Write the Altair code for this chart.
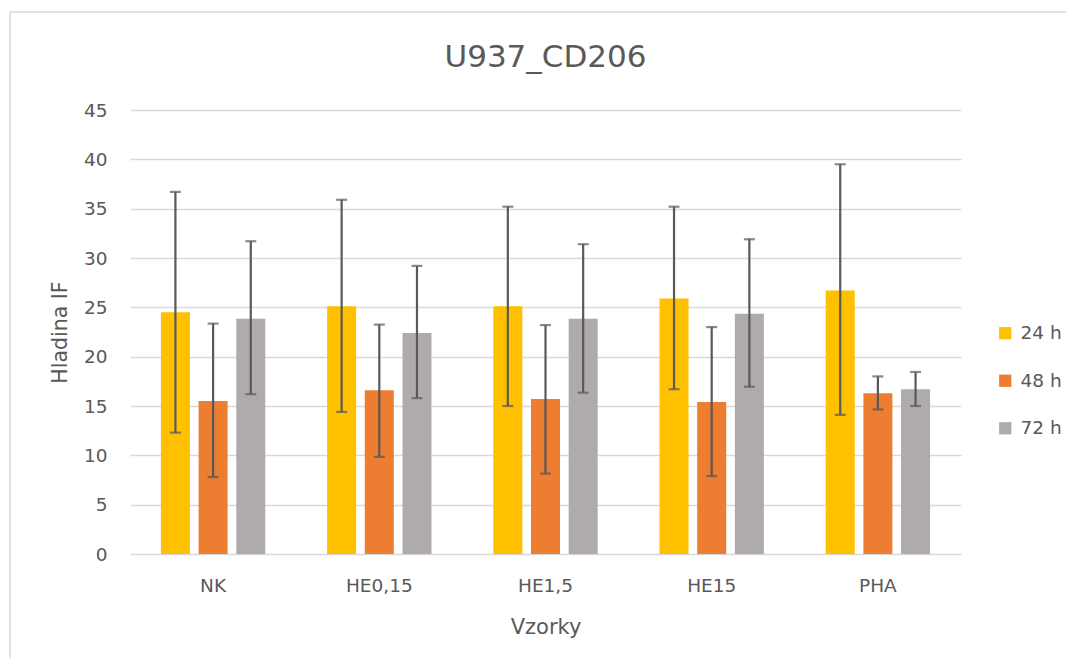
import altair as alt
import pandas as pd

samples = ["NK", "HE0,15", "HE1,5", "HE15", "PHA"]
series = ["24 h", "48 h", "72 h"]
colors = ["#FFC000", "#ED7D31", "#AFABAB"]
title_text = "U937_CD206"

mean_24 = [24.5, 25.1, 25.1, 25.9, 26.7]
mean_48 = [15.5, 16.6, 15.7, 15.4, 16.3]
mean_72 = [23.85, 22.4, 23.85, 24.35, 16.7]

hi_24 = [36.7, 35.9, 35.2, 35.2, 39.5]
lo_24 = [12.3, 14.4, 15.0, 16.7, 14.1]
hi_48 = [23.35, 23.25, 23.2, 23.0, 18.0]
lo_48 = [7.8, 9.85, 8.15, 7.9, 14.65]
hi_72 = [31.7, 29.2, 31.4, 31.9, 18.45]
lo_72 = [16.2, 15.8, 16.35, 16.95, 15.0]

rows = []
for s, means, his, los in [("24 h", mean_24, hi_24, lo_24),
                           ("48 h", mean_48, hi_48, lo_48),
                           ("72 h", mean_72, hi_72, lo_72)]:
    for i, cat in enumerate(samples):
        rows.append({"Vzorky": cat, "cas": s, "val": means[i], "hi": his[i], "lo": los[i]})
df = pd.DataFrame(rows)

FONT = "DejaVu Sans, sans-serif"
TXT = "#595959"

x_enc = alt.X("Vzorky:N", sort=samples,
              scale=alt.Scale(paddingInner=0.32, paddingOuter=0.16),
              axis=alt.Axis(title="Vzorky", labelAngle=0, labelFontSize=18.5, labelColor=TXT,
                            labelFont=FONT, labelPadding=22, ticks=False, domain=False,
                            titleFont=FONT, titleFontSize=21, titleColor=TXT, titleFontWeight="normal",
                            titleX=415.5, titleY=73, titleBaseline="middle"))
xo = alt.XOffset("cas:N", sort=series, scale=alt.Scale(paddingInner=0.23, paddingOuter=0.115))
y_scale = alt.Scale(domain=[0, 45], nice=False)

base = alt.Chart(df)

bars = base.mark_bar().encode(
    x=x_enc,
    xOffset=xo,
    y=alt.Y("val:Q", scale=y_scale,
            axis=alt.Axis(title="Hladina IF", values=list(range(0, 50, 5)), labelFontSize=18.5,
                          labelColor=TXT, labelFont=FONT, labelPadding=23, ticks=False, domain=False,
                          gridColor="#D9D9D9", gridWidth=1.5,
                          titleFont=FONT, titleFontSize=20.5, titleColor=TXT, titleFontWeight="normal",
                          titleX=-70, titleY=222, titleAngle=-90, titleBaseline="middle")),
    color=alt.Color("cas:N", sort=series, scale=alt.Scale(domain=series, range=colors),
                    legend=alt.Legend(title=None, orient="none", legendX=866, legendY=214,
                                      symbolType="square", symbolSize=150, symbolStrokeWidth=0,
                                      labelFontSize=18.5, labelColor=TXT, labelFont=FONT,
                                      rowPadding=28.5, labelOffset=6)),
)

err = base.mark_rule(color="#595959", strokeWidth=2.2).encode(
    x=alt.X("Vzorky:N", sort=samples), xOffset=xo,
    y=alt.Y("lo:Q", scale=y_scale), y2="hi:Q")

cap_hi = base.mark_tick(color="#595959", thickness=2.2, size=11).encode(
    x=alt.X("Vzorky:N", sort=samples), xOffset=xo, y=alt.Y("hi:Q", scale=y_scale))
cap_lo = base.mark_tick(color="#595959", thickness=2.2, size=11).encode(
    x=alt.X("Vzorky:N", sort=samples), xOffset=xo, y=alt.Y("lo:Q", scale=y_scale))

frame = alt.Chart(alt.Data(values=[{"f": 1}])).mark_rect(
    fill=None, stroke="#D9D9D9", strokeWidth=1.5, clip=False).encode(
    x=alt.value(-120), x2=alt.value(942), y=alt.value(-98), y2=alt.value(552))

title = alt.Chart(alt.Data(values=[{"t": title_text}])).mark_text(
    font=FONT, fontSize=31, color=TXT, align="center", baseline="middle").encode(
    x=alt.value(415.5), y=alt.value(-52), text="t:N")

chart = alt.layer(frame, bars, err, cap_hi, cap_lo, title).properties(
    width=831, height=444,
    autosize=alt.AutoSizeParams(type="none"),
    padding={"left": 122, "top": 102, "right": 105, "bottom": 104},
).configure(background="white", view=alt.ViewConfig(stroke=None))

chart.save("out.html", embed_options={"renderer": "svg", "actions": False})
